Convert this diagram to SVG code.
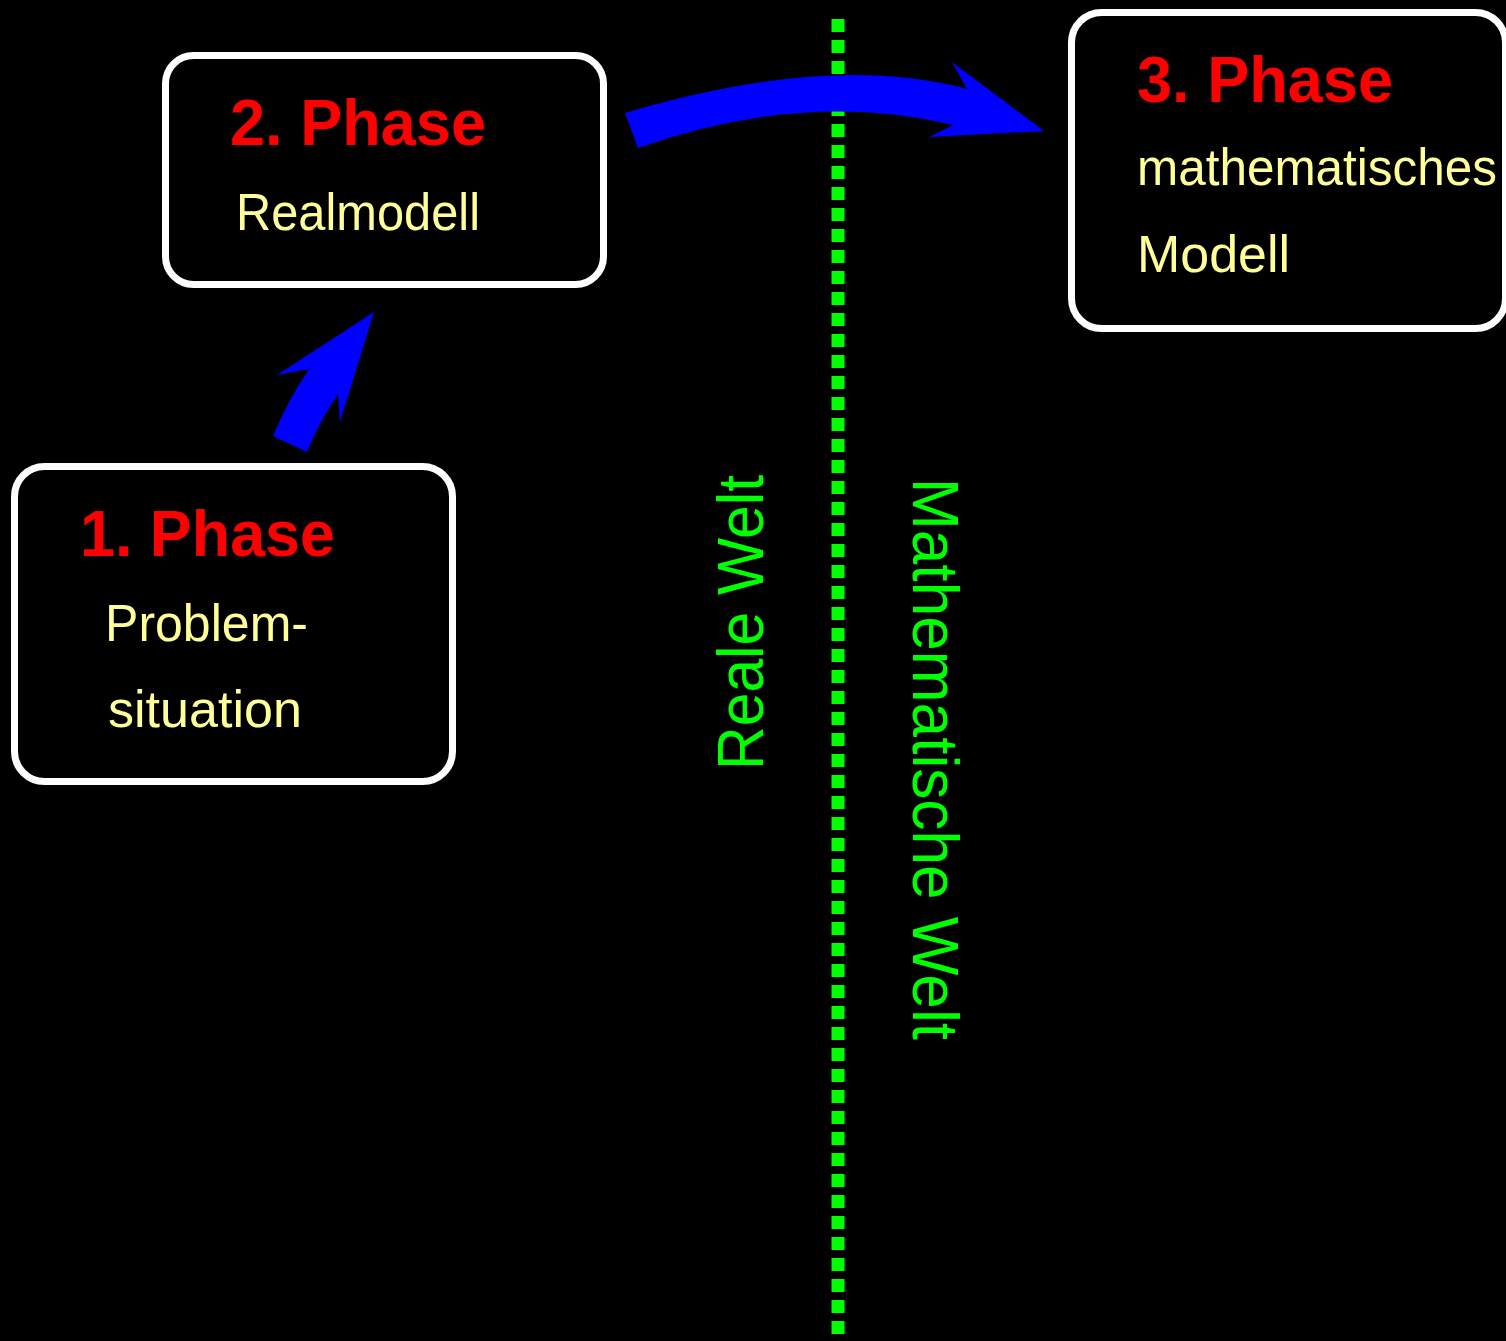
<svg xmlns="http://www.w3.org/2000/svg" width="1506" height="1341" viewBox="0 0 1506 1341">
<style>
.box{fill:#000;stroke:#fff;stroke-width:7}
.title{font-family:"Liberation Sans",Arial,sans-serif;font-weight:bold;font-size:64px;fill:#ff0000}
.sub{font-family:"Liberation Sans",Arial,sans-serif;font-size:52px;fill:#ffff99}
.world{font-family:"Liberation Sans",Arial,sans-serif;font-size:64px;fill:#00ff00}
.arrow{fill:#0000ff;stroke:none}
</style>
<rect width="1506" height="1341" fill="#000"/>
<g id="divider">
<line x1="838" y1="19" x2="838" y2="1338" stroke="#00ff00" stroke-width="13" stroke-dasharray="13 8"/>
<text class="world" transform="translate(763,770) rotate(-90)" textLength="295" lengthAdjust="spacingAndGlyphs">Reale Welt</text>
<text class="world" transform="translate(913,478) rotate(90)" textLength="562" lengthAdjust="spacingAndGlyphs">Mathematische Welt</text>
</g>
<g id="phase1">
<rect class="box" x="14.5" y="466.5" width="438" height="315" rx="30"/>
<text class="title" x="80" y="556" textLength="255" lengthAdjust="spacingAndGlyphs">1. Phase</text>
<text class="sub" x="105" y="641" textLength="203" lengthAdjust="spacingAndGlyphs">Problem-</text>
<text class="sub" x="108" y="727" textLength="194" lengthAdjust="spacingAndGlyphs">situation</text>
</g>
<g id="phase2">
<rect class="box" x="165.5" y="55.5" width="438" height="229" rx="28"/>
<text class="title" x="230" y="145" textLength="256" lengthAdjust="spacingAndGlyphs">2. Phase</text>
<text class="sub" x="236" y="230" textLength="244" lengthAdjust="spacingAndGlyphs">Realmodell</text>
</g>
<g id="phase3">
<rect class="box" x="1071.5" y="12.5" width="434" height="316" rx="30"/>
<text class="title" x="1137" y="102" textLength="256" lengthAdjust="spacingAndGlyphs">3. Phase</text>
<text class="sub" x="1137" y="185" textLength="360" lengthAdjust="spacingAndGlyphs">mathematisches</text>
<text class="sub" x="1137" y="272" textLength="153" lengthAdjust="spacingAndGlyphs">Modell</text>
</g>
<g id="connectors">
<path class="arrow" d="M273,436 Q288,400 309,369 L277,375 L374,312 L340,422 L338,394 Q320,420 307,452 Z"/>
<path class="arrow" d="M625,113 Q830,52 967,89 L952,62 L1044,131 L929,137 L953,125 Q804.5,89.5 638,148 Z"/>
</g>
</svg>
